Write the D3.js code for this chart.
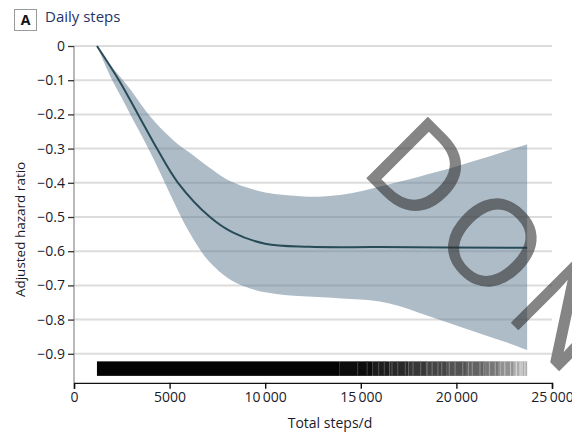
<!DOCTYPE html>
<html>
<head>
<meta charset="utf-8">
<script src="https://cdn.jsdelivr.net/npm/d3@7"></script>
<style>
  body { margin: 0; background: #fff; }
  svg { display: block; font-family: "Open Sans", "Liberation Sans", sans-serif; }
</style>
</head>
<body>
<svg id="chart"></svg>
<script>
const width = 572;
const height = 433;

// estimated spline + 95% CI
const lineSteps = [1200, 2350, 3350, 4340, 5440, 7110, 8300, 10000, 12300, 16000, 23700];
const lineHR = [0, -0.1, -0.2, -0.3, -0.4, -0.5, -0.545, -0.578, -0.587, -0.588, -0.59];

const bandSteps = [1200, 2000, 2500, 3000, 3500, 4000, 4500, 5000, 5500, 6000, 6500, 7000, 8000, 9000, 10000, 11000, 12000,
    13000, 14000, 15000, 16000, 17000, 18000, 19000, 20000, 21000, 22000, 23000, 23700];
const bandUpper = [0, -0.062, -0.096, -0.131, -0.17, -0.207, -0.238, -0.265, -0.29, -0.31, -0.331, -0.352, -0.39, -0.413,
    -0.428, -0.436, -0.44, -0.44, -0.435, -0.425, -0.411, -0.397, -0.383, -0.368, -0.352, -0.335, -0.318, -0.3, -0.287];
const bandLower = [0, -0.1, -0.152, -0.206, -0.258, -0.312, -0.37, -0.43, -0.488, -0.542, -0.588, -0.626, -0.677, -0.705,
    -0.72, -0.728, -0.732, -0.735, -0.738, -0.741, -0.747, -0.76, -0.779, -0.798, -0.817, -0.836, -0.855, -0.874, -0.889];

// rug of observations: [start step, gray level]
const rugLevels = [[1200, 4], [13900, 12], [15600, 28], [16500, 40], [17500, 55], [18500, 68], [19500, 82],
    [20500, 98], [21500, 118], [22300, 145], [23000, 172]];
const rugEnd = 23700;
const rugLight = [14800, 15300, 15900, 16200, 16600, 16900, 17300, 17700, 18100, 18400, 18700, 19000, 19200, 19600,
    19900, 20300, 20600, 20800, 21200, 21400, 21700, 22000, 22200, 22500, 22800, 23100, 23300, 23400, 23550];

const xTicks = [0, 5000, 10000, 15000, 20000, 25000];
const yTicks = [0, -0.1, -0.2, -0.3, -0.4, -0.5, -0.6, -0.7, -0.8, -0.9];
const yBottom = -0.985;

const x = d3.scaleLinear([0, 25000], [74, 552]);
const y = d3.scaleLinear([0, -1], [46, 388]);

const fmtX = d => d < 10000 ? String(d) : d3.format(",")(d).replace(",", "\u2009");
const fmtY = d => d === 0 ? "0" : "\u2212" + d3.format(".1f")(-d);

const svg = d3.select("#chart").attr("width", width).attr("height", height);

// title
svg.append("rect").attr("x", 14.5).attr("y", 9.5).attr("width", 22).attr("height", 21)
    .attr("fill", "#fff").attr("stroke", "#9a9a9a");
svg.append("text").attr("x", 25.5).attr("y", 25).attr("text-anchor", "middle")
    .attr("font-size", 14).attr("font-weight", 700).attr("fill", "#111").text("A");
svg.append("text").attr("x", 45).attr("y", 22).attr("font-size", 15).attr("fill", "#1f3468").text("Daily steps");

// gridlines
svg.append("g").selectAll("line").data(yTicks).join("line")
    .attr("x1", x(0)).attr("x2", x(25000))
    .attr("y1", d => y(d)).attr("y2", d => y(d))
    .attr("stroke", "#dcdcdc").attr("stroke-width", 2);

// confidence band
const band = bandSteps.map((s, i) => ({s, lo: bandLower[i], hi: bandUpper[i]}));
svg.append("path").datum(band)
    .attr("fill", "#5d7a8f").attr("fill-opacity", 0.5)
    .attr("d", d3.area().x(d => x(d.s)).y0(d => y(d.lo)).y1(d => y(d.hi)).curve(d3.curveCatmullRom.alpha(0.5)));

// spline
svg.append("path").datum(lineSteps.map((s, i) => [s, lineHR[i]]))
    .attr("fill", "none").attr("stroke", "#274c58").attr("stroke-width", 2)
    .attr("d", d3.line().x(d => x(d[0])).y(d => y(d[1])).curve(d3.curveCatmullRom.alpha(0.5)));

// rug
const axisY = y(yBottom);
const rug = svg.append("g");
rug.selectAll("rect.lvl").data(rugLevels).join("rect").attr("class", "lvl")
    .attr("x", d => x(d[0]))
    .attr("width", (d, i) => x(i < rugLevels.length - 1 ? rugLevels[i + 1][0] : rugEnd) - x(d[0]))
    .attr("y", axisY - 21.5).attr("height", 14.5)
    .attr("fill", d => d3.rgb(d[1], d[1], d[1]));
rug.selectAll("rect.lt").data(rugLight).join("rect").attr("class", "lt")
    .attr("x", d => x(d)).attr("width", 1.2)
    .attr("y", axisY - 21.5).attr("height", 14.5)
    .attr("fill", d => {
        const lvl = rugLevels.filter(r => r[0] <= d).pop()[1];
        const g = Math.min(230, lvl + 45);
        return d3.rgb(g, g, g);
    });

// y axis
const yAxis = svg.append("g").attr("transform", `translate(${x(0)},0)`)
    .call(d3.axisLeft(y).tickValues(yTicks).tickFormat(fmtY).tickSize(6).tickPadding(3));
yAxis.select(".domain").attr("d", `M0,${y(0)}V${axisY}`).attr("stroke", "#a8a8a8").attr("stroke-width", 1.6);
yAxis.selectAll(".tick line").attr("stroke", "#333").attr("stroke-width", 1.3);
yAxis.selectAll(".tick text").attr("font-size", 14).attr("fill", "#1b1b2a").attr("font-family", "Open Sans");

// x axis
const xAxis = svg.append("g").attr("transform", `translate(0,${axisY})`)
    .call(d3.axisBottom(x).tickValues(xTicks).tickFormat(fmtX).tickSize(6).tickPadding(3));
xAxis.select(".domain").attr("stroke", "#111").attr("stroke-width", 1.4);
xAxis.selectAll(".tick line").attr("stroke", "#111").attr("stroke-width", 1.4);
xAxis.selectAll(".tick text").attr("font-size", 14).attr("fill", "#1b1b2a").attr("font-family", "Open Sans");

// axis titles
svg.append("text").attr("x", 330).attr("y", 428).attr("text-anchor", "middle")
    .attr("font-size", 14).attr("fill", "#1b1b2a").text("Total steps/d");
svg.append("text").attr("transform", `translate(25,${(y(0) + axisY) / 2 + 15}) rotate(-90)`)
    .attr("text-anchor", "middle").attr("font-size", 13.5).attr("fill", "#1b1b2a").text("Adjusted hazard ratio");

// watermark overlay
svg.append("g").attr("opacity", 0.58)
    .append("text").attr("transform", "translate(359,170) rotate(45)")
    .attr("font-size", 120).attr("font-family", "Open Sans").attr("fill", "#2e2e2e")
    .attr("letter-spacing", 12)
    .attr("stroke", "#2e2e2e").attr("stroke-width", 1.5).attr("stroke-linejoin", "round")
    .text("DON");
</script>
</body>
</html>
